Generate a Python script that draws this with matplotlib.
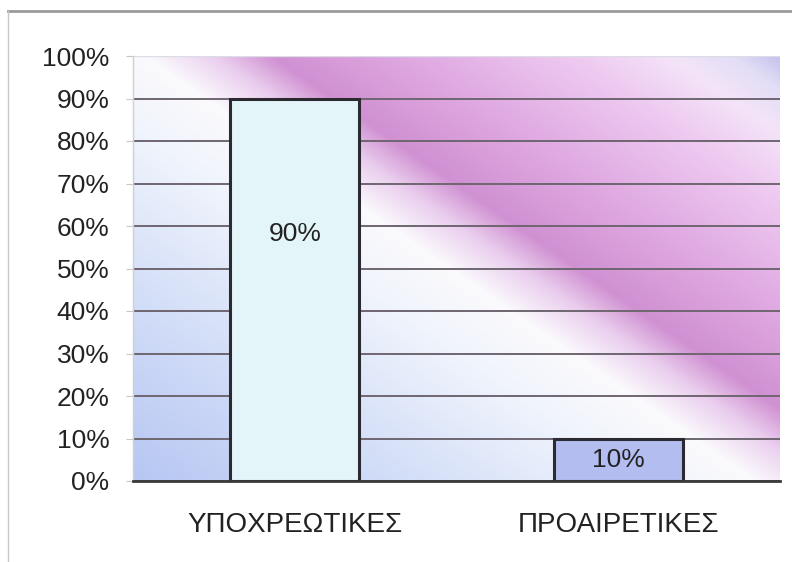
import numpy as np
import matplotlib
matplotlib.use("Agg")
import matplotlib.pyplot as plt
from matplotlib.lines import Line2D

categories = ["ΥΠΟΧΡΕΩΤΙΚΕΣ", "ΠΡΟΑΙΡΕΤΙΚΕΣ"]
values = [90, 10]
value_labels = ["90%", "10%"]
yticks = [0, 10, 20, 30, 40, 50, 60, 70, 80, 90, 100]
ytick_labels = ["0%", "10%", "20%", "30%", "40%", "50%", "60%", "70%", "80%", "90%", "100%"]

bar_colors = ["#e4f5fa", "#b4bdf0"]
label_frac = [0.645, 0.5]

plt.rcParams['font.family'] = ['Liberation Sans', 'DejaVu Sans']

W, H = 792, 562
fig = plt.figure(figsize=(W / 100, H / 100), dpi=100)
fig.patch.set_facecolor("white")
L, R, T, B = 133, 780, 56, 481
ax = fig.add_axes([L / W, (H - B) / H, (R - L) / W, (B - T) / H])

# background diagonal gradient (decoration)
pw, ph = R - L, B - T
xx, yy = np.meshgrid(np.arange(pw) + L, np.arange(ph) + T)
d = ((xx - 223) - 1.44 * (yy - 56)) / np.hypot(1, 1.44)
stops = np.array([-420, -300, -200, -110, -45, -5, 28, 110, 200, 255, 290, 330])
cols = np.array([
    (180, 196, 242),
    (200, 213, 246),
    (220, 229, 249),
    (240, 244, 252),
    (251, 250, 253),
    (234, 206, 238),
    (208, 145, 210),
    (224, 170, 226),
    (238, 202, 241),
    (244, 228, 248),
    (226, 222, 246),
    (180, 180, 234),
]) / 255.0
img = np.zeros((ph, pw, 3))
for c in range(3):
    img[..., c] = np.interp(d, stops, cols[:, c])

x = np.arange(len(categories))
ax.set_xlim(-0.5, 1.5)
ax.set_ylim(0, 100)
ax.imshow(img, extent=(-0.5, 1.5, 0, 100), aspect='auto', zorder=0, interpolation='bilinear')

ax.set_axisbelow(True)
ax.set_yticks(yticks)
ax.set_yticklabels(ytick_labels, fontsize=19, color="#222222")
ax.yaxis.grid(True, color="#6e6670", linewidth=1.4, zorder=0.5)
ax.xaxis.grid(False)
ax.get_ygridlines()[-1].set_color("#dcdce6")
ax.get_ygridlines()[-1].set_linewidth(1.0)

bars = ax.bar(x, values, width=0.40, color=bar_colors, edgecolor="#2a2a30", linewidth=2.2, zorder=2)
for xi, v, lab, f in zip(x, values, value_labels, label_frac):
    ax.text(xi, v * f, lab, ha='center', va='center', fontsize=19, color="#222222", zorder=3)

ax.set_xticks(x)
ax.set_xticklabels(categories, fontsize=20, color="#222222")
ax.tick_params(axis='x', length=0, pad=22)
ax.tick_params(axis='y', length=5, color="#c8c8c8", pad=12)

for s in ["top", "right"]:
    ax.spines[s].set_visible(False)
ax.spines["left"].set_color("#d0d0d0")
ax.spines["left"].set_linewidth(1.0)
ax.spines["bottom"].set_color("#3a3a3a")
ax.spines["bottom"].set_linewidth(2.0)
ax.spines["bottom"].set_zorder(2.5)

# figure frame lines
fig.add_artist(Line2D([8 / W, 1], [1 - 11 / H, 1 - 11 / H], color="#9a9a9a", linewidth=2.0))
fig.add_artist(Line2D([8 / W, 8 / W], [0, 1 - 11 / H], color="#c8c8c8", linewidth=1.0))

fig.savefig("out.png", dpi=100, facecolor="white")
